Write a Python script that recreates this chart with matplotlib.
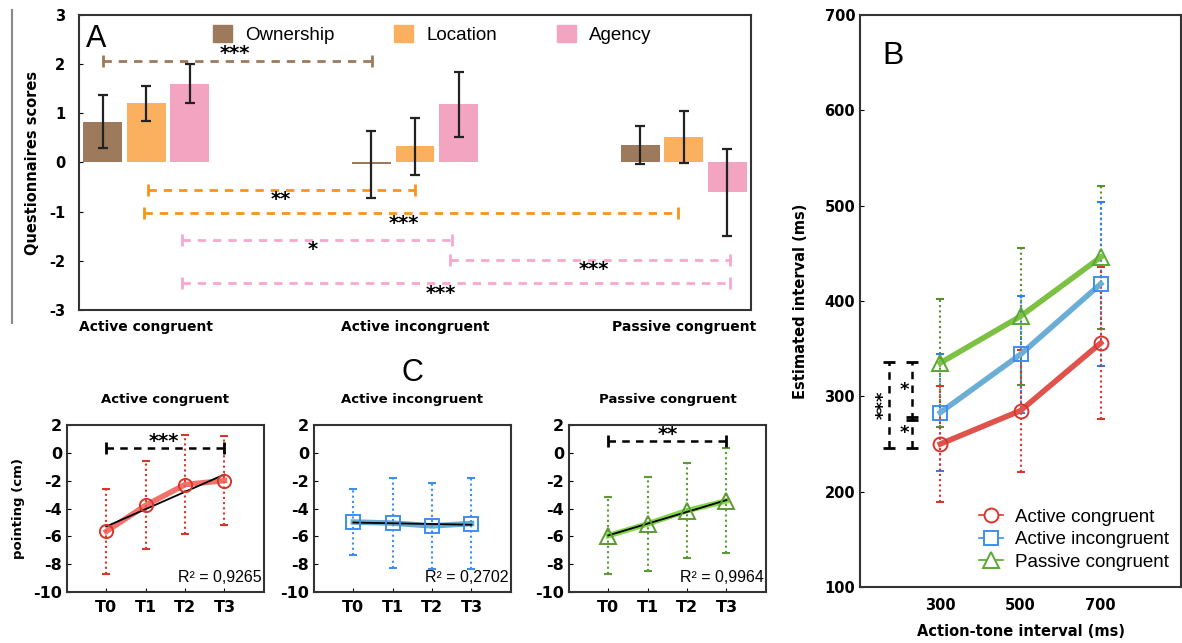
import numpy as np
import matplotlib
matplotlib.use('Agg')
import matplotlib.pyplot as plt
from matplotlib.lines import Line2D
from matplotlib.patches import Patch

plt.rcParams['font.family'] = ['Liberation Sans', 'DejaVu Sans']
plt.rcParams['axes.unicode_minus'] = False

# ---- panel A : questionnaire scores ----
conditions = ['Active congruent', 'Active incongruent', 'Passive congruent']
scales = ['Ownership', 'Location', 'Agency']
ownership_mean = [0.83, -0.04, 0.35]
ownership_err = [0.54, 0.68, 0.39]
location_mean = [1.20, 0.33, 0.51]
location_err = [0.36, 0.58, 0.53]
agency_mean = [1.60, 1.18, -0.61]
agency_err = [0.40, 0.67, 0.88]

# ---- panel B : estimated interval ----
intervals = [300, 500, 700]
b_labels = ['Active congruent', 'Active incongruent', 'Passive congruent']
ac_interval = [250, 285, 356]
ac_interval_err = [61, 64, 80]
ai_interval = [283, 344, 418]
ai_interval_err = [61, 61, 86]
pc_interval = [335, 384, 446]
pc_interval_err = [67, 72, 75]

# ---- panel C : pointing ----
times = ['T0', 'T1', 'T2', 'T3']
ac_point = [-5.64, -3.77, -2.28, -1.99]
ac_point_err = [3.07, 3.15, 3.56, 3.18]
ai_point = [-4.97, -5.05, -5.25, -5.08]
ai_point_err = [2.40, 3.23, 3.09, 3.30]
pc_point = [-5.95, -5.10, -4.15, -3.45]
pc_point_err = [2.76, 3.40, 3.42, 3.78]
r2_values = ['0,9265', '0,2702', '0,9964']

BOLD = ['DejaVu Sans']
brown, orange, pink = '#9c7a5b', '#fbb05f', '#f2a4c0'


def star(ax, x, y, s, size=14, **kw):
    ax.text(x, y, s, ha='center', va='center', fontsize=size, fontweight='bold',
            family=['DejaVu Sans'], **kw)


def hbracket(ax, x1, x2, y, color, lw=2):
    ax.plot([x1, x2], [y, y], color=color, lw=lw, ls=(0, (3, 2.5)),
            marker='|', ms=9, mew=2)


fig = plt.figure(figsize=(11.82, 6.43), dpi=100)

# ================= A =================
axA = fig.add_axes([0.0668, 0.5179, 0.5686, 0.4588])
x = np.arange(len(conditions))
off, w = 0.162, 0.145
for i, (m, e, c) in enumerate(zip([ownership_mean, location_mean, agency_mean],
                                  [ownership_err, location_err, agency_err],
                                  [brown, orange, pink])):
    xs = x + (i - 1) * off
    axA.bar(xs, m, width=w, color=c, label=scales[i], zorder=2)
    axA.errorbar(xs, m, yerr=e, fmt='none', ecolor='#222222', elinewidth=1.6,
                 capsize=3.5, capthick=1.6, zorder=3)

axA.set_xlim(-0.25, 2.25)
axA.set_ylim(-3, 3)
axA.set_xticks(x)
axA.set_xticklabels(conditions, fontweight='bold', fontsize=10, family=BOLD)
axA.tick_params(axis='x', length=0, pad=7)
axA.set_yticks(range(-3, 4))
axA.tick_params(axis='y', direction='in', length=3, labelsize=10.5, pad=10)
for t in axA.get_yticklabels():
    t.set_fontweight('bold')
    t.set_family(BOLD)
axA.set_ylabel('Questionnaires scores', fontweight='bold', fontsize=10.5,
               family=BOLD, labelpad=6)
for s in axA.spines.values():
    s.set_linewidth(1.5)
    s.set_color('#333333')

hbracket(axA, -0.162, 0.84, 2.07, brown)
star(axA, 0.33, 2.22, '***')
hbracket(axA, 0.007, 1.0, -0.55, '#f7941d')
star(axA, 0.5, -0.76, '**')
hbracket(axA, -0.007, 1.98, -1.03, '#f7941d')
star(axA, 0.96, -1.25, '***')
hbracket(axA, 0.135, 1.136, -1.58, '#f8a8cf')
star(axA, 0.62, -1.77, '*')
hbracket(axA, 1.13, 2.17, -1.99, '#f8a8cf')
star(axA, 1.665, -2.17, '***')
hbracket(axA, 0.135, 2.17, -2.46, '#f8a8cf')
star(axA, 1.095, -2.67, '***')

axA.legend(handles=[Patch(color=c) for c in [brown, orange, pink]], labels=scales,
           ncol=3, loc='upper left', bbox_to_anchor=(0.18, 1.01), frameon=False,
           fontsize=13.5, handlelength=1.0, handleheight=1.0, handletextpad=0.7,
           columnspacing=3.2, borderaxespad=0.3)
axA.text(0.01, 0.97, 'A', transform=axA.transAxes, fontsize=22, va='top', ha='left')

fig.add_artist(Line2D([0.0102, 0.0102], [1 - 10 / 643, 1 - 323 / 643],
                      transform=fig.transFigure, color='#8a8a8a', lw=1.5))

# ================= B =================
axB = fig.add_axes([0.7276, 0.0871, 0.2716, 0.8896])
b_series = [(pc_interval, pc_interval_err, '#7dc142', '#5aa832', '#5c8f2e', '^', 11),
            (ai_interval, ai_interval_err, '#6aaed6', '#3d8ef0', '#2f7ff0', 's', 9.5),
            (ac_interval, ac_interval_err, '#e0524c', '#d9362b', '#d9362b', 'o', 10)]
for m, e, lc, mc, ec, mk, ms in b_series:
    _, caps, bars = axB.errorbar(intervals, m, yerr=e, fmt='none', ecolor=ec,
                                 elinewidth=1.5, capsize=3, capthick=1.5, zorder=2)
    bars[0].set_linestyle((0, (1, 1.5)))
    axB.plot(intervals, m, color=lc, lw=4, zorder=3)
    axB.plot(intervals, m, ls='none', marker=mk, ms=ms, mfc='none', mec=mc,
             mew=1.4, zorder=4)

axB.set_xlim(100, 900)
axB.set_ylim(100, 700)
axB.set_xticks(intervals)
axB.set_yticks(range(100, 701, 100))
axB.tick_params(axis='both', direction='in', length=3, labelsize=10.5)
axB.tick_params(axis='x', pad=8, length=0)
for t in axB.get_xticklabels() + axB.get_yticklabels():
    t.set_fontweight('bold')
    t.set_family(BOLD)
axB.set_xlabel('Action-tone interval (ms)', fontweight='bold', fontsize=10.5,
               family=BOLD, labelpad=8)
axB.set_ylabel('Estimated interval (ms)', fontweight='bold', fontsize=10.5,
               family=BOLD, labelpad=12)
for s in axB.spines.values():
    s.set_linewidth(1.5)
    s.set_color('#333333')

for bx, y1, y2 in [(171, 246, 336), (230, 246, 278), (230, 275, 336)]:
    axB.plot([bx, bx], [y1, y2], color='black', lw=1.8, ls=(0, (3, 2.5)),
             marker='_', ms=9, mew=2)
axB.text(158, 291, '***', rotation=90, ha='center', va='center', fontsize=13,
         fontweight='bold', family=['DejaVu Sans'])
star(axB, 211, 307, '*', size=13)
star(axB, 211, 262, '*', size=13)

b_handles = [Line2D([], [], color=mc, lw=1.2, marker=mk, ms=ms, mfc='white', mec=mc,
                    mew=1.4) for _, _, _, mc, _, mk, ms in b_series[::-1]]
axB.legend(b_handles, b_labels, loc='lower left', bbox_to_anchor=(0.33, 0.005),
           frameon=False, fontsize=13.5, handlelength=1.3, handletextpad=0.6,
           labelspacing=0.3, borderaxespad=0.3)
axB.text(0.07, 0.955, 'B', transform=axB.transAxes, fontsize=23, va='top', ha='left')

# ================= C =================
c_panels = [(0.0567, ac_point, ac_point_err, '#f0584f', '#d9362b', 'o', 9.5,
             'Active congruent', (0, 3, 0.36, 1.45, 0.85, '***')),
            (0.2657, ai_point, ai_point_err, '#4f9fc8', '#3d8ef0', 's', 10,
             'Active incongruent', None),
            (0.4814, pc_point, pc_point_err, '#6fcf2b', '#5c9a35', '^', 11,
             'Passive congruent', (0, 3, 0.84, 1.5, 1.3, '**'))]
xt = np.arange(len(times))
for k, (left, m, e, lc, mc, mk, ms, title, sig) in enumerate(c_panels):
    ax = fig.add_axes([left, 0.0793, 0.1665, 0.2597])
    _, caps, bars = ax.errorbar(xt, m, yerr=e, fmt='none', ecolor=mc,
                                elinewidth=1.5, capsize=3, capthick=1.5, zorder=2)
    bars[0].set_linestyle((0, (1, 1.5)))
    ax.plot(xt, m, color=lc, lw=4, alpha=0.85, zorder=3)
    slope, icpt = np.polyfit(xt, m, 1)
    ax.plot(xt, slope * xt + icpt, color='black', lw=1.3, zorder=4)
    ax.plot(xt, m, ls='none', marker=mk, ms=ms, mfc='none', mec=mc, mew=1.4,
            zorder=5)
    if sig:
        hbracket(ax, sig[0], sig[1], sig[2], 'black', lw=1.8)
        star(ax, sig[3], sig[4], sig[5], size=14)
    ax.text(3.95, -9.25, 'R² = ' + r2_values[k], ha='right', va='baseline',
            fontsize=11.5)
    ax.set_xlim(-1, 4)
    ax.set_ylim(-10, 2)
    ax.set_xticks(xt)
    ax.set_xticklabels(times)
    ax.set_yticks(range(-10, 3, 2))
    ax.tick_params(axis='both', direction='in', length=3, labelsize=11.5)
    ax.tick_params(axis='x', pad=6)
    for t in ax.get_xticklabels() + ax.get_yticklabels():
        t.set_fontweight('bold')
        t.set_family(BOLD)
    ax.set_title(title, fontweight='bold', fontsize=9.5, family=BOLD, pad=16)
    for s in ax.spines.values():
        s.set_linewidth(1.5)
        s.set_color('#333333')
    if k == 0:
        ax.set_ylabel('pointing (cm)', fontweight='bold', fontsize=9.5, family=BOLD,
                      labelpad=6)
    if k == 1:
        ax.text(0.5, 1.31, 'C', transform=ax.transAxes, fontsize=22, ha='center',
                va='center')

fig.savefig('out.png', dpi=100)
